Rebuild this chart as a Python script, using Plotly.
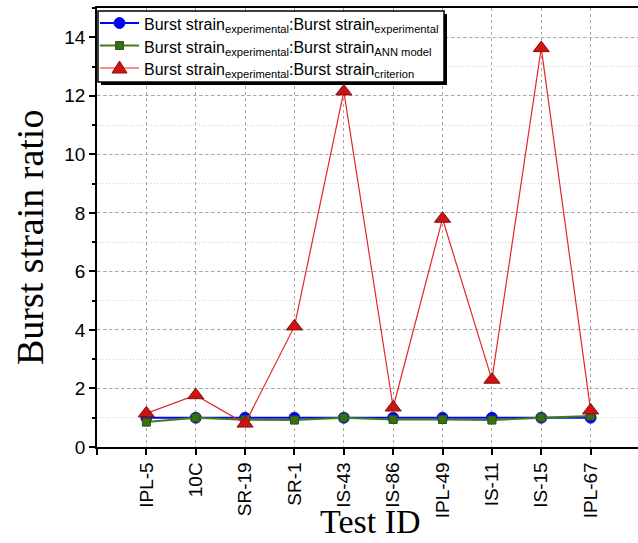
import plotly.graph_objects as go

# Test specimens along the x axis
test_ids = ["IPL-5", "10C", "SR-19", "SR-1", "IS-43", "IS-86", "IPL-49", "IS-11", "IS-15", "IPL-67"]
positions = list(range(1, len(test_ids) + 1))

# Burst strain ratios (experimental divided by each prediction)
ratio_experimental = [1.0, 1.0, 1.0, 1.0, 1.0, 1.0, 1.0, 1.0, 1.0, 1.0]
ratio_ann = [0.85, 1.0, 0.93, 0.92, 1.0, 0.94, 0.94, 0.92, 1.0, 1.06]
ratio_criterion = [1.15, 1.77, 0.8, 4.12, 12.15, 1.35, 7.8, 2.3, 13.63, 1.25]

y_ticks = [0, 2, 4, 6, 8, 10, 12, 14]

series_names = [
    "Burst strain<sub>experimental</sub>:Burst strain<sub>experimental</sub>",
    "Burst strain<sub>experimental</sub>:Burst strain<sub>ANN model</sub>",
    "Burst strain<sub>experimental</sub>:Burst strain<sub>criterion</sub>",
]

W, H = 638, 543
ML, MR, MT, MB = 97, 0, 8, 96
PW, PH = W - ML - MR, H - MT - MB

SANS = "Liberation Sans, Arial, sans-serif"
SERIF = "Liberation Serif, Times New Roman, serif"

BLUE, BLUE_EDGE = "#0000ff", "#1a1acc"
GREEN_LINE, GREEN, GREEN_EDGE = "#3c7d1c", "#3a6e12", "#2a5a0a"
RED_LINE, RED, RED_EDGE = "#e3262d", "#cc1414", "#8a0a0a"

fig = go.Figure()

fig.add_trace(go.Scatter(
    x=positions, y=ratio_experimental, mode="lines+markers", name=series_names[0],
    line=dict(color=BLUE, width=2),
    marker=dict(symbol="circle", size=11, color=BLUE, line=dict(color=BLUE_EDGE, width=1)),
))
fig.add_trace(go.Scatter(
    x=positions, y=ratio_ann, mode="lines+markers", name=series_names[1],
    line=dict(color=GREEN_LINE, width=2),
    marker=dict(symbol="square", size=8, color=GREEN, line=dict(color=GREEN_EDGE, width=1)),
))
fig.add_trace(go.Scatter(
    x=positions, y=ratio_criterion, mode="lines+markers", name=series_names[2],
    line=dict(color=RED_LINE, width=1.2),
    marker=dict(symbol="triangle-up", size=14, color=RED, line=dict(color=RED_EDGE, width=1)),
))

grid_major = "#a8a8a8"

fig.update_xaxes(
    range=[0, 10.96],
    tickmode="array",
    tickvals=[0] + positions,
    ticktext=[""] + test_ids,
    tickangle=-90,
    tickfont=dict(family=SANS, size=19, color="#000"),
    ticks="outside", ticklen=6, tickwidth=1.5, tickcolor="#000",
    showline=True, linecolor="#000", linewidth=1.5, mirror=True,
    showgrid=True, gridcolor=grid_major, gridwidth=1, griddash="3px,3px",
    zeroline=False,
)
fig.update_yaxes(
    range=[0, 15],
    tickmode="array",
    tickvals=y_ticks,
    tickfont=dict(family=SANS, size=19, color="#000"),
    ticks="outside", ticklen=6, tickwidth=1.5, tickcolor="#000",
    showline=True, linecolor="#000", linewidth=1.5,
    showgrid=True, gridcolor=grid_major, gridwidth=1, griddash="3px,3px",
    zeroline=False,
    minor=dict(dtick=1, tick0=1, ticks="outside", ticklen=3, tickcolor="#000",
               showgrid=True, gridcolor="#d0d0d0", griddash="1px,2px", gridwidth=1),
)


def px2x(px):
    return (px - ML) / PW


def px2y(py):
    return (H - MB - py) / PH


# Legend box drawn with shapes so that row spacing stays compact
LEG_X0, LEG_Y0, LEG_X1, LEG_Y1 = 98, 11, 444, 82
ROW_Y = [23, 45.5, 68]
SYM_X0, SYM_X1, SYM_XC = 100, 139, 119.5
TEXT_X = 142

shapes = [
    dict(type="rect", xref="paper", yref="paper", layer="above",
         x0=px2x(LEG_X0 + 3), x1=px2x(LEG_X1 + 3),
         y0=px2y(LEG_Y1 + 3), y1=px2y(LEG_Y0 + 3),
         fillcolor="#000", line=dict(width=0)),
    dict(type="rect", xref="paper", yref="paper", layer="above",
         x0=px2x(LEG_X0), x1=px2x(LEG_X1), y0=px2y(LEG_Y1), y1=px2y(LEG_Y0),
         fillcolor="white", line=dict(color="#000", width=1.5)),
]
legend_styles = [
    (BLUE, 2, "circle", BLUE, BLUE_EDGE),
    (GREEN_LINE, 2, "square", GREEN, GREEN_EDGE),
    (RED_LINE, 1.2, "triangle", RED, RED_EDGE),
]
annotations = []
for name, ry, (lc, lw, sym, fc, ec) in zip(series_names, ROW_Y, legend_styles):
    shapes.append(dict(type="line", xref="paper", yref="paper", layer="above",
                       x0=px2x(SYM_X0), x1=px2x(SYM_X1), y0=px2y(ry), y1=px2y(ry),
                       line=dict(color=lc, width=lw)))
    if sym == "circle":
        r = 5.5
        shapes.append(dict(type="circle", xref="paper", yref="paper", layer="above",
                           x0=px2x(SYM_XC - r), x1=px2x(SYM_XC + r),
                           y0=px2y(ry + r), y1=px2y(ry - r),
                           fillcolor=fc, line=dict(color=ec, width=1)))
    elif sym == "square":
        r = 4
        shapes.append(dict(type="rect", xref="paper", yref="paper", layer="above",
                           x0=px2x(SYM_XC - r), x1=px2x(SYM_XC + r),
                           y0=px2y(ry + r), y1=px2y(ry - r),
                           fillcolor=fc, line=dict(color=ec, width=1)))
    else:
        pts = [(SYM_XC, ry - 7), (SYM_XC - 7.5, ry + 5), (SYM_XC + 7.5, ry + 5)]
        path = "M {} {} L {} {} L {} {} Z".format(
            *[v for p in pts for v in (px2x(p[0]), px2y(p[1]))])
        shapes.append(dict(type="path", xref="paper", yref="paper", layer="above",
                           path=path, fillcolor=fc, line=dict(color=ec, width=1)))
    annotations.append(dict(text=name, xref="paper", yref="paper",
                            x=px2x(TEXT_X), y=px2y(ry + 3), xanchor="left", yanchor="middle",
                            showarrow=False,
                            font=dict(family=SANS, size=16, color="#000")))

annotations += [
    dict(text="Burst strain ratio", xref="paper", yref="paper",
         x=px2x(30), y=px2y(238), textangle=-90, showarrow=False,
         xanchor="center", yanchor="middle",
         font=dict(family=SERIF, size=38, color="#000")),
    dict(text="Test ID", xref="paper", yref="paper",
         x=px2x(370), y=px2y(521), showarrow=False,
         xanchor="center", yanchor="middle",
         font=dict(family=SERIF, size=34, color="#000")),
]

fig.update_layout(
    width=W, height=H,
    margin=dict(l=ML, r=MR, t=MT, b=MB, autoexpand=False),
    paper_bgcolor="white", plot_bgcolor="white",
    showlegend=False,
    shapes=shapes,
    annotations=annotations,
)

fig.write_html("out.html")
